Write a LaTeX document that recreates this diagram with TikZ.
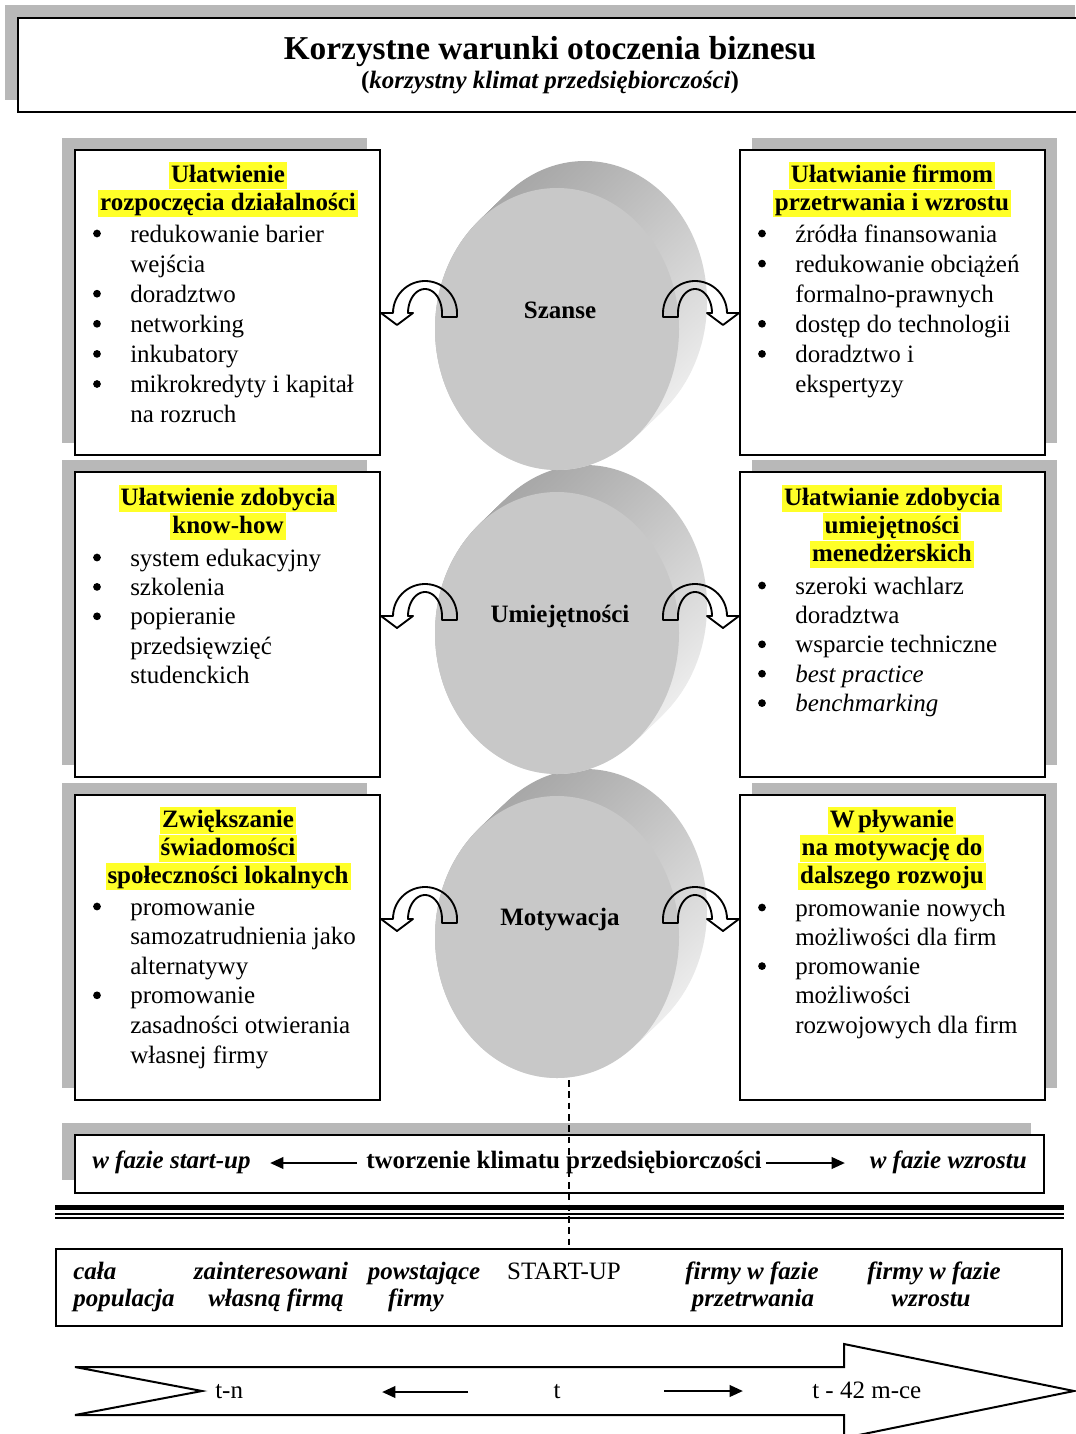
\documentclass[tikz,border=0pt]{standalone}
\usepackage{fontspec}
\setmainfont{Liberation Serif}
\usetikzlibrary{arrows.meta}
\definecolor{hl}{RGB}{255,255,40}
\definecolor{shadowgray}{RGB}{184,184,184}
\definecolor{discfront}{RGB}{200,200,200}
\tikzset{
  frame/.style={draw=black, line width=1.5pt, fill=white},
  bodytxt/.style={font=\fontsize{18.75}{22}\selectfont, inner sep=0pt, anchor=base west},
  ctxt/.style={font=\fontsize{18.75}{22}\selectfont, inner sep=0pt, anchor=base},
  bitxt/.style={font=\bfseries\itshape\fontsize{18.75}{22}\selectfont, inner sep=0pt, anchor=base},
  hltxt/.style={font=\bfseries\fontsize{18.75}{22}\selectfont, fill=hl, inner xsep=1.5pt, inner ysep=0pt, text height=15pt, text depth=5.5pt, anchor=base},
  disclabel/.style={font=\bfseries\fontsize{18.75}{22}\selectfont, inner sep=0pt, anchor=base},
  bulletdot/.style={circle, fill=black, inner sep=0pt, minimum size=5.8pt},
  curl/.style={draw=black, line width=1.4pt, line join=round},
  barrow/.style={line width=2pt, -{Triangle[length=10pt,width=8.5pt]}},
  dashline/.style={line width=1.1pt, dash pattern=on 5pt off 3.5pt}
}
\newcommand\titlelines[4]{%
  \foreach \t [count=\i] in {#4} {\node[hltxt] (#1-t\i) at (#2, {#3+(\i-1)*28}) {\t};}}
\newcommand\bulletlines[5]{%
  \foreach \b/\t [count=\i] in {#5} {%
    \node[bodytxt] (#1-l\i) at ({#2+33}, {#3+(\i-1)*#4}) {\t};
    \ifnum\b=1 \node[bulletdot] (#1-b\i) at (#2, {#3+(\i-1)*#4-8.5}) {};\fi
  }}
\newcommand\drawdisc[2]{%
  \foreach \k in {0,...,16}{%
    \pgfmathsetmacro\ff{1-\k/16}%
    \shade[top color=black!34, bottom color=black!7, shading angle=40] ({#1+28*\ff},{#2-27*\ff}) ellipse [x radius=122, y radius=141];
  }%
  \fill[discfront] (#1,#2) ellipse [x radius=122, y radius=141];
}
\newcommand\leftcurl[2]{%
  \draw[curl] ({#1+17},{#2+4}) -- ({#1+32},{#2+4}) -- plot[domain=0:180,samples=30] ({#1+32*cos(\x)},{#2-32*sin(\x)}) -- ({#1-44},{#2}) -- ({#1-28},{#2+12}) -- ({#1-12},{#2}) -- ({#1-17},{#2}) -- plot[domain=180:0,samples=30] ({#1+17*cos(\x)},{#2-24*sin(\x)}) -- cycle;}
\newcommand\rightcurl[2]{%
  \draw[curl] ({#1-17},{#2+4}) -- ({#1-32},{#2+4}) -- plot[domain=180:0,samples=30] ({#1+32*cos(\x)},{#2-32*sin(\x)}) -- ({#1+44},{#2}) -- ({#1+28},{#2+12}) -- ({#1+12},{#2}) -- ({#1+17},{#2}) -- plot[domain=0:180,samples=30] ({#1+17*cos(\x)},{#2-24*sin(\x)}) -- cycle;}
\begin{document}
\begin{tikzpicture}[x=0.75pt,y=-0.75pt]
\useasboundingbox (0,0) rectangle (1075,1434);
\fill[white] (0,0) rectangle (1075,1434);

% title box
\fill[shadowgray] (5,5) rectangle (1075,100);
\draw[frame] (18,18) rectangle (1095,112);
\node[font=\bfseries\fontsize{25}{30}\selectfont, inner sep=0pt, anchor=base] (title) at (550,60) {Korzystne warunki otoczenia biznesu};
\node[font=\bfseries\fontsize{18.75}{22}\selectfont, inner sep=0pt, anchor=base] (subtitle) at (550,89) {(\textit{korzystny klimat przedsiębiorczości})};

% shadows and boxes
\foreach \top in {150,472,795}{%
  \fill[shadowgray] (62,{\top-12}) rectangle (367,{\top+293});
  \fill[shadowgray] (752,{\top-12}) rectangle (1057,{\top+293});
  \draw[frame] (75,\top) rectangle (380,{\top+305});
  \draw[frame] (740,\top) rectangle (1045,{\top+305});
}

% discs
\drawdisc{557}{937}
\drawdisc{557}{633}
\drawdisc{557}{329}

\node[disclabel] (szanse) at (560,318) {Szanse};
\node[disclabel] (umiej) at (560,622) {Umiejętności};
\node[disclabel] (motyw) at (560,925) {Motywacja};

% curved arrows
\leftcurl{425}{313}
\rightcurl{695}{313}
\leftcurl{425}{616}
\rightcurl{695}{616}
\leftcurl{425}{919}
\rightcurl{695}{919}

% box texts
\titlelines{L1}{228}{182}{Ułatwienie,rozpoczęcia działalności}
\bulletlines{L1}{97}{242}{30.1}{1/redukowanie barier,0/wejścia,1/doradztwo,1/networking,1/inkubatory,1/mikrokredyty i kapitał,0/na rozruch}
\titlelines{R1}{892}{182}{Ułatwianie firmom,przetrwania i wzrostu}
\bulletlines{R1}{762}{242}{30.1}{1/źródła finansowania,1/redukowanie obciążeń,0/formalno-prawnych,1/dostęp do technologii,1/doradztwo i,0/ekspertyzy}
\titlelines{L2}{228}{505}{Ułatwienie zdobycia,know-how}
\bulletlines{L2}{97}{566}{29.4}{1/system edukacyjny,1/szkolenia,1/popieranie,0/przedsięwzięć,0/studenckich}
\titlelines{R2}{892}{505}{Ułatwianie zdobycia,umiejętności,menedżerskich}
\bulletlines{R2}{762}{594}{29.4}{1/szeroki wachlarz,0/doradztwa,1/wsparcie techniczne,1/{\itshape best practice},1/{\itshape benchmarking}}
\titlelines{L3}{228}{827}{Zwiększanie,świadomości,społeczności lokalnych}
\bulletlines{L3}{97}{915}{29.6}{1/promowanie,0/samozatrudnienia jako,0/alternatywy,1/promowanie,0/zasadności otwierania,0/własnej firmy}
\titlelines{R3}{892}{827}{W\kern2.5pt pływanie,na motywację do,dalszego rozwoju}
\bulletlines{R3}{762}{916}{29.3}{1/promowanie nowych,0/możliwości dla firm,1/promowanie,0/możliwości,0/rozwojowych dla firm}

% band
\fill[shadowgray] (62,1123) rectangle (1031,1180);
\draw[frame] (75,1135) rectangle (1044,1193);
\coordinate (dtop) at (569,1080);
\coordinate (dbot) at (569,1249);
\draw[dashline] (dtop) -- (dbot);
\node[bitxt, anchor=base west] (wstart) at (92,1168) {w fazie start-up};
\node[font=\bfseries\fontsize{18.75}{22}\selectfont, inner sep=0pt, anchor=base west] (tworz) at (366,1168) {tworzenie klimatu przedsiębiorczości};
\node[bitxt, anchor=base east] (wwzr) at (1027,1168) {w fazie wzrostu};
\coordinate (a1s) at (357,1163); \coordinate (a1e) at (270,1163);
\coordinate (a2s) at (766,1163); \coordinate (a2e) at (845,1163);
\draw[barrow] (a1s) -- (a1e);
\draw[barrow] (a2s) -- (a2e);

% triple line
\draw[line width=3.8pt] (55,1207.5) -- (1064,1207.5);
\draw[line width=1.5pt] (55,1213.5) -- (1064,1213.5);
\draw[line width=1.5pt] (55,1217.5) -- (1064,1217.5);

% lower box
\draw[frame, fill=none] (56,1249) rectangle (1062,1326);
\node[bitxt, anchor=base west] (c1a) at (73,1279) {cała};
\node[bitxt, anchor=base west] (c1b) at (73,1306) {populacja};
\node[bitxt] (c2a) at (271,1279) {zainteresowani};
\node[bitxt] (c2b) at (276,1306) {własną firmą};
\node[bitxt] (c3a) at (424,1279) {powstające};
\node[bitxt] (c3b) at (416,1306) {firmy};
\node[ctxt] (c4) at (564,1279) {START-UP};
\node[bitxt] (c5a) at (752,1279) {firmy w fazie};
\node[bitxt] (c5b) at (753,1306) {przetrwania};
\node[bitxt] (c6a) at (934,1279) {firmy w fazie};
\node[bitxt] (c6b) at (931,1306) {wzrostu};

% big arrow
\draw[line width=1.5pt, fill=white, line join=miter] (75,1367) -- (844,1367) -- (844,1344) -- (1074,1391) -- (844,1438) -- (844,1415) -- (75,1415) -- (202,1391) -- cycle;
\node[bodytxt] (tn) at (215,1398) {t-n};
\node[ctxt] (tt) at (557,1398) {t};
\node[bodytxt] (t42) at (812,1398) {t - 42 m-ce};
\coordinate (b1s) at (468,1392); \coordinate (b1e) at (382,1392);
\coordinate (b2s) at (664,1391); \coordinate (b2e) at (743,1391);
\draw[barrow] (b1s) -- (b1e);
\draw[barrow] (b2s) -- (b2e);
\end{tikzpicture}
\end{document}
